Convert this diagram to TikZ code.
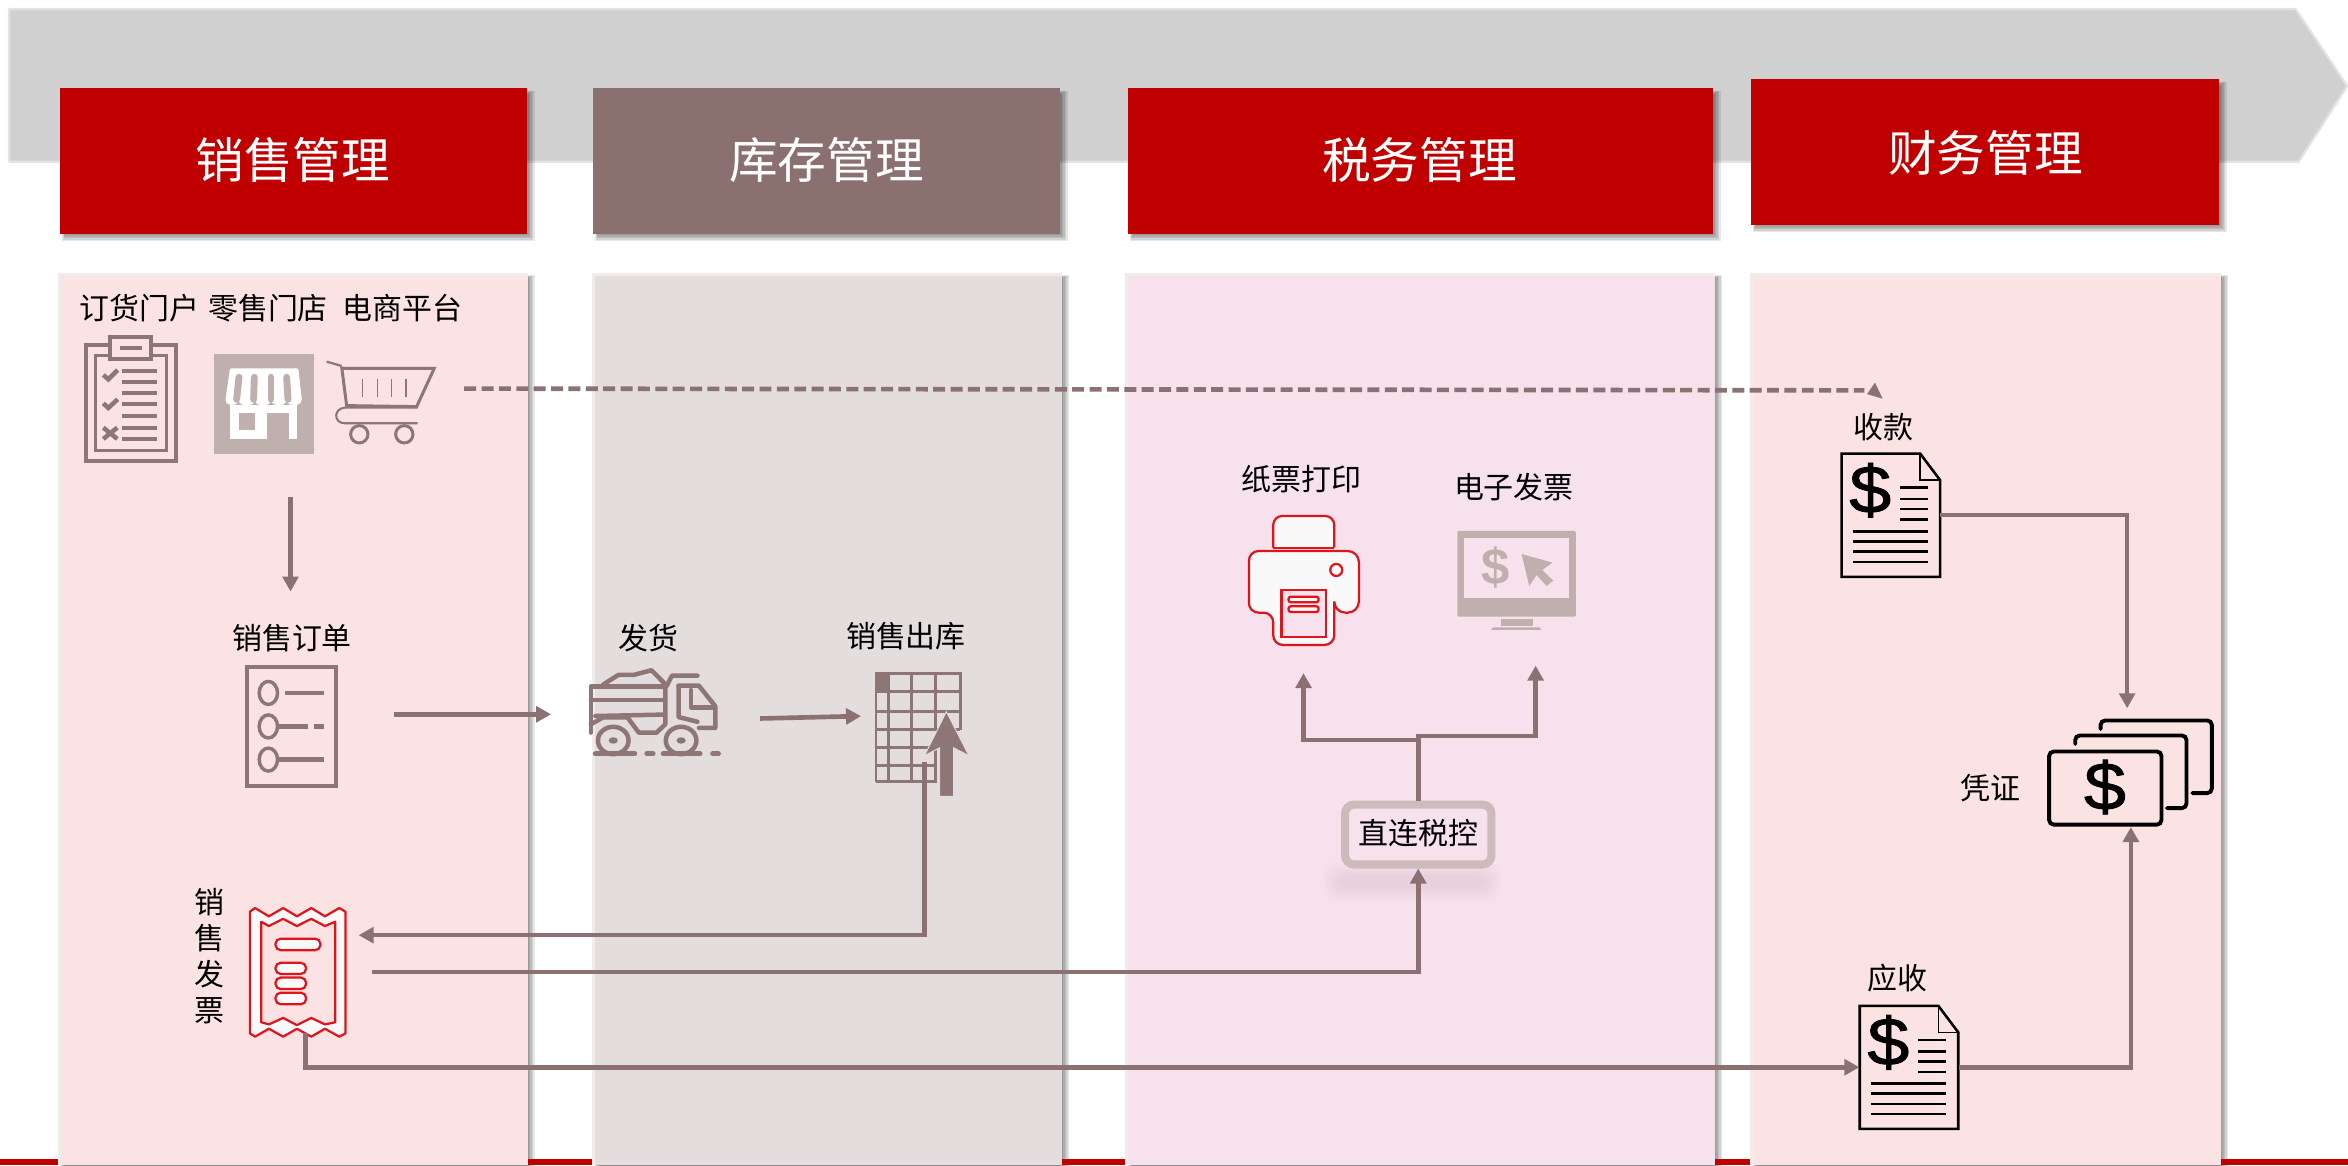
\documentclass[tikz,border=0pt]{standalone}
\usepackage{fontspec}
\usetikzlibrary{arrows.meta}
\newfontfamily\dolf{Liberation Sans}
\newfontfamily\dolw[FakeStretch=1.12,FakeBold=1.2]{Liberation Sans}
\setmainfont{Noto Sans CJK SC}
\definecolor{hdred}{HTML}{C00000}
\definecolor{flowc}{HTML}{8B7171}
\definecolor{hdbrown}{HTML}{8B7070}
\definecolor{pinkp}{HTML}{FBE3E3}
\definecolor{grayp}{HTML}{E3DDDD}
\definecolor{lilacp}{HTML}{F6E1ED}
\definecolor{edgep}{HTML}{F0ECEC}
\definecolor{iconb}{HTML}{8F7676}
\definecolor{iconl}{HTML}{BFB0AE}
\definecolor{redl}{HTML}{E0141B}
\definecolor{nearw}{HTML}{F9F9F9}
\definecolor{taxb}{HTML}{CDBBBC}
\newcommand{\softsh}[4]{\foreach \r in {0,1,2,3,4,5}{\fill[black,opacity=.095] ({#1+4-\r*.5},{#2+4-\r*.5}) rectangle ({#3+\r},{#4+\r});}}
\tikzset{
 x=1pt,y=-1pt,
 hdbox/.style={inner sep=0pt,text=white,font=\fontsize{32.5}{32.5}\selectfont,anchor=center},
 lbl/.style={inner sep=0pt,text=black,font=\fontsize{20}{24}\selectfont,anchor=center,align=center},
 iconbox/.style={inner sep=0pt,draw=none},
 flow/.style={draw=flowc,line width=3.1pt,-{Triangle[width=10.5pt,length=10pt]}},
 flowplain/.style={draw=flowc,line width=3.1pt},
 zA/.style={shift={(26.7,173.6)},x=.2226pt,y=-.2226pt},
 zB/.style={shift={(133.56,400.67)},x=.3407pt,y=-.2406pt},
 zC/.style={shift={(801.3,300.5)},x=.2226pt,y=-.2226pt},
 zD/.style={shift={(1188.7,253.8)},x=.2419pt,y=-.3343pt},
 brn/.style={draw=iconb,line width=2.8pt},
 blk/.style={draw=black,line width=2.4pt},
 rl/.style={draw=redl,line width=1.5pt},
}
\begin{document}
\begin{tikzpicture}
\useasboundingbox (0,0) rectangle (1568,778);
\fill[white] (0,0) rectangle (1568,778);
% big arrow
\filldraw[fill=black!18.5,draw=black!11,line width=1.5pt,line join=round] (6,6) -- (1533,6) -- (1567.5,57.5) -- (1535,108) -- (6,108) -- cycle;
% header shadows
\softsh{40}{59}{352}{156}
\softsh{396}{59}{708}{156}
\softsh{753}{59}{1144}{156}
\softsh{1169}{53}{1482}{150}
% panel shadows
\softsh{39}{182}{352}{790}
\softsh{396}{182}{709}{790}
\softsh{752}{182}{1145}{790}
\softsh{1169}{182}{1483}{790}
% bottom bar
\fill[hdred] (0,774) rectangle (1568,778);
% panels
\fill[edgep] (38.5,182) rectangle (352.5,778);
\fill[pinkp] (41,184.5) rectangle (352.5,778);
\fill[edgep] (395,182) rectangle (709.5,778);
\fill[grayp] (397.5,184.5) rectangle (709.5,778);
\fill[edgep] (751,182) rectangle (1145.5,778);
\fill[lilacp] (753.5,184.5) rectangle (1145.5,778);
\fill[edgep] (1168.5,182) rectangle (1483.5,778);
\fill[pinkp] (1171,184.5) rectangle (1483.5,778);
% headers
\fill[hdred] (40,59) rectangle (352,156);
\fill[hdbrown] (396,59) rectangle (708,156);
\fill[hdred] (753,59) rectangle (1144,156);
\fill[hdred] (1169,53) rectangle (1482,150);
\node[hdbox] (h1) at (195.5,107) {销售管理};
\node[hdbox] (h2) at (552,107) {库存管理};
\node[hdbox] (h3) at (948,107) {税务管理};
\node[hdbox] (h4) at (1326,102) {财务管理};
% labels
\node[lbl] (t1) at (93,206) {订货门户};
\node[lbl] (t2) at (179,206) {零售门店};
\node[lbl] (t3) at (269,206) {电商平台};
\node[lbl] (t4) at (195,426) {销售订单};
\node[lbl] (t5) at (433,426) {发货};
\node[lbl] (t6) at (605,425) {销售出库};
\node[lbl] (t7) at (140,638.5) {销\\售\\发\\票};
\node[lbl] (t8) at (869,320) {纸票打印};
\node[lbl] (t9) at (1011,325) {电子发票};
\node[lbl] (t10) at (1257.5,285) {收款};
\node[lbl] (t11) at (1267,653) {应收};
\node[lbl] (t12) at (1329,526) {凭证};
% clipboard
\begin{scope}[zA]
\draw[brn,line width=2.8pt] (138,255) rectangle (408,602);
\draw[brn,line width=2.2pt] (167,287) rectangle (379,571);
\draw[brn,line width=2.6pt,fill=pinkp] (211,231) rectangle (334,298);
\draw[brn,line width=2.4pt] (240,265) -- (305,265);
\foreach \yy in {332,365,400,433,467,503,537}{\draw[brn,line width=2.8pt] (245,\yy) -- (350,\yy);}
\draw[brn,line width=3pt] (190,345) -- (205,358) -- (233,330);
\draw[brn,line width=3pt] (190,430) -- (205,444) -- (233,418);
\draw[brn,line width=3pt] (190,503) -- (232,537) (232,503) -- (190,537);
% store
\fill[iconl] (522,282) rectangle (822,582);
\fill[white,rounded corners=1pt] (570,325) -- (775,325) -- (785,415) .. controls (785,440) and (745,440) .. (740,420) .. controls (735,440) and (700,440) .. (693,420) .. controls (688,440) and (650,440) .. (645,420) .. controls (640,440) and (600,440) .. (597,420) .. controls (590,440) and (557,440) .. (557,415) -- cycle;
\foreach \xa/\xb in {597/590,643/641,693/693,740/744}{\draw[iconl,line width=4.6pt,line cap=round] (\xa,352) -- (\xb,418);}
\fill[white] (570,435) rectangle (772,538);
\fill[iconl] (597,458) rectangle (645,510);
\fill[iconl] (680,458) rectangle (748,538);
% cart
\begin{scope}[draw=iconb,line width=2pt]
\draw[line width=1.5pt] (860,305) -- (905,318);
\draw (905,320) -- (920,437) -- (1130,440) -- (1183,325) -- (905,325);
\draw[line width=1.4pt] (1133,443) -- (915,443) .. controls (880,445) and (880,490) .. (915,490) -- (1133,490);
\draw (958,523) circle[radius=26];
\draw (1093,523) circle[radius=26];
\end{scope}
\foreach \xx in {968,1012,1055,1098}{\draw[iconb,line width=.9pt] (\xx,358) -- (\xx,412);}
\end{scope}
% order doc, truck, table, receipt
\begin{scope}[zB]
\draw[brn,line width=2.6pt] (92,186) rectangle (266,516);
\foreach \yy in {258,351,443}{\draw[brn,line width=2.3pt] (134,\yy) circle[x radius=18,y radius=32];}
\draw[brn,line width=3pt] (167,258) -- (243,258) (155,351) -- (212,351) (224,351) -- (243,351) (155,443) -- (243,443);
% truck
\begin{scope}[draw=iconb,line width=3pt,line join=round,line cap=round]
\draw (790,235) -- (820,208) -- (850,208) -- (885,195) -- (915,238);
\draw (766,368) -- (766,240) -- (912,240);
\draw (766,277) -- (912,277);
\draw (912,240) -- (912,345) -- (895,368) -- (860,368) -- (838,326) -- (790,326) -- (766,345);
\draw (775,322) -- (912,318);
\draw (915,238) -- (925,210) -- (975,210);
\draw (938,238) -- (978,238) -- (1010,295) -- (1010,355) -- (978,355);
\draw (938,238) -- (938,325) -- (975,338);
\draw (962,250) -- (962,298) -- (1005,298);
\draw (810,390) circle[x radius=30,y radius=38];
\draw (943,390) circle[x radius=30,y radius=38];
\draw[line width=3.4pt] (775,427) -- (852,427) (876,427) -- (888,427) (908,427) -- (980,427) (1005,427) -- (1016,427);
\end{scope}
\fill[iconb] (810,390) circle[radius=9];
\fill[iconb] (943,390) circle[radius=9];
% table
\begin{scope}[draw=iconb,line width=2pt]
\draw (1325,505) -- (1325,205) -- (1490,205) -- (1490,360);
\draw (1325,505) -- (1442,505) -- (1442,410);
\foreach \yy in {255,310,360}{\draw (1325,\yy) -- (1490,\yy);}
\foreach \yy in {410,460}{\draw (1325,\yy) -- (1442,\yy);}
\foreach \xx in {1350,1395}{\draw (\xx,205) -- (\xx,505);}
\draw (1442,205) -- (1442,360);
\end{scope}
\fill[iconb] (1325,205) rectangle (1350,255);
\fill[iconb,draw=grayp,line width=.6pt] (1463,310) -- (1507,432) -- (1477,410) -- (1477,545) -- (1450,545) -- (1450,410) -- (1420,432) -- cycle;
% receipt
\filldraw[fill=nearw,rl,line join=round] (98,865) -- (108,855) -- (135,878) -- (163,855) -- (190,878) -- (218,855) -- (245,878) -- (273,855) -- (285,865) -- (285,1203) -- (273,1212) -- (245,1190) -- (218,1212) -- (190,1190) -- (163,1212) -- (135,1190) -- (108,1212) -- (98,1203) -- cycle;
\filldraw[fill=pinkp,rl,line join=round] (120,893) -- (135,905) -- (163,885) -- (190,905) -- (218,885) -- (245,905) -- (265,893) -- (265,1172) -- (245,1178) -- (218,1160) -- (190,1180) -- (163,1160) -- (135,1178) -- (120,1172) -- cycle;
\filldraw[fill=nearw,rl,rounded corners=3.5pt] (148,940) rectangle (236,972);
\filldraw[fill=nearw,rl,rounded corners=3.5pt] (148,1007) rectangle (208,1038);
\filldraw[fill=nearw,rl,rounded corners=3.5pt] (148,1048) rectangle (208,1080);
\filldraw[fill=nearw,rl,rounded corners=3.5pt] (148,1090) rectangle (208,1122);
\end{scope}
% printer, monitor
\begin{scope}[zC]
\filldraw[fill=nearw,rl,rounded corners=6pt] (220,293) -- (220,198) -- (403,198) -- (403,293);
\draw[rl] (220,293) -- (403,293);
\filldraw[fill=nearw,rl,rounded corners=7.5pt] (147,303) -- (477,303) -- (477,488) -- (403,488) [sharp corners] -- (403,488) [rounded corners=6.5pt] -- (403,585) -- (220,585) -- (220,488) -- (147,488) -- cycle;
\draw[rl] (409,360) circle[radius=18];
\filldraw[fill=lilacp,rl] (245,420) rectangle (378,560);
\filldraw[fill=nearw,rl,rounded corners=1.5pt] (266,440) rectangle (356,457);
\filldraw[fill=nearw,rl,rounded corners=1.5pt] (266,469) rectangle (356,486);
\fill[iconl,rounded corners=1pt] (772,243) rectangle (1128,500);
\fill[lilacp] (793,265) rectangle (1107,445);
\fill[iconl] (903,507) rectangle (1000,528);
\fill[iconl] (880,532) -- (1018,532) -- (1025,540) -- (873,540) -- cycle;
\fill[iconl] (965,312) -- (1058,338) -- (1027,360) -- (1060,392) -- (1040,408) -- (1010,375) -- (988,408) -- cycle;
\node[inner sep=0pt,text=iconl,font=\dolf\bfseries\fontsize{34}{34}\selectfont] (mondollar) at (888,352) {\$};
\end{scope}
\foreach \r in {0,2,4,6,8}{\fill[black,opacity=.012,rounded corners=8pt] ({884+\r},{576+\r}) rectangle ({1002-\r},{602-\r});}
\node[inner sep=0pt,draw=taxb,line width=5.4pt,fill=lilacp,rounded corners=6pt,minimum width=97.7pt,minimum height=40pt,text=black,font=\fontsize{20}{24}\selectfont] (tax) at (947.1,557.3) {\raisebox{4pt}{直连税控}};
% docs
\node[iconbox,minimum width=65.8pt,minimum height=82.2pt] (shoukuan) at (1262.7,344) {};
\node[iconbox,minimum width=65.8pt,minimum height=82.2pt] (yingshou) at (1274.8,712.7) {};
\begin{scope}[zD]
\foreach \dx/\dy/\nm in {0/0/a,50/1103/b}{
\begin{scope}[shift={(\dx,\dy)}]
\draw[blk,line join=miter,line width=1.7pt] (170,147) -- (387,147) -- (442,200) -- (442,393) -- (170,393) -- cycle;
\draw[blk,line width=1pt] (387,147) -- (387,200) -- (442,200);
\node[inner sep=0pt,text=black,font=\dolw\fontsize{45}{45}\selectfont] (dl\nm) at (249,220) {\$};
\foreach \yy in {215,238,258,279}{\draw[black,line width=1.7pt] (332,\yy) -- (409,\yy);}
\foreach \yy in {302,322,343,363}{\draw[black,line width=1.7pt] (201,\yy) -- (409,\yy);}
\end{scope}}
\draw[blk,line width=2.6pt,rounded corners=3pt] (743,742) rectangle (1053,888);
\node[inner sep=0pt,text=black,font=\dolw\fontsize{45}{45}\selectfont] (dlv) at (897,813) {\$};
\draw[blk,line width=2.6pt,rounded corners=3pt,line cap=round] (815,727) -- (815,710) -- (1122,710) -- (1122,855) -- (1068,855);
\draw[blk,line width=2.6pt,rounded corners=3pt,line cap=round] (885,697) -- (885,680) -- (1192,680) -- (1192,825) -- (1138,825);
\end{scope}
% connector endpoints
\coordinate (dashS) at (310,259.5);
\coordinate (dashM) at (1245,260.7);
\coordinate (cartD) at (194,332);
\coordinate (orderU) at (194,395);
\coordinate (orderR) at (263,477);
\coordinate (truckL) at (368,477);
\coordinate (truckR) at (507.6,479.8);
\coordinate (tableL) at (575,478.2);
\coordinate (tableB) at (617.4,509);
\coordinate (recA) at (239.5,624.5);
\coordinate (recB) at (248.4,649);
\coordinate (recC) at (204,690);
\coordinate (voucherT) at (1420.5,473);
\coordinate (voucherB) at (1423,552.3);
\coordinate (prn) at (870.5,449.5);
\coordinate (mon) at (1025.5,444.5);
% connectors
\draw[flowplain,dash pattern=on 8pt off 3.6pt] (dashS) -- (dashM);
\fill[flowc] (1257.2,266.2) -- (1246.8,263.2) -- (1252.1,255.5) -- cycle;
\draw[flow] (cartD) -- (orderU);
\draw[flow] (orderR) -- (truckL);
\draw[flow] (truckR) -- (tableL);
\draw[flow] (tableB) |- (recA);
\draw[flow] (recB) -| (tax.south);
\draw[flow] (recC) |- (yingshou.west);
\draw[flow] (shoukuan.east) -| (voucherT);
\draw[flow] (yingshou.east) -| (voucherB);
\draw[flowplain] (tax.north) -- (947.1,491);
\draw[flow] (947.1,494.2) -| (prn);
\draw[flow] (945.8,491.5) -| (mon);
\end{tikzpicture}
\end{document}
